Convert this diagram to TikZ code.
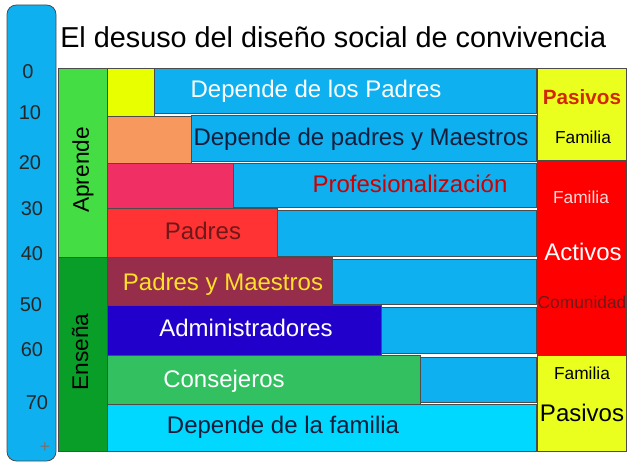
\documentclass[tikz,border=0pt]{standalone}
\usepackage{fontspec}
\setmainfont{Liberation Sans}
\definecolor{barblue}{RGB}{14,176,240}
\definecolor{aprgreen}{RGB}{68,221,68}
\definecolor{ensgreen}{RGB}{8,158,40}
\definecolor{yelbox}{RGB}{232,255,0}
\definecolor{orangebox}{RGB}{247,152,95}
\definecolor{pinkbox}{RGB}{240,48,100}
\definecolor{redbox}{RGB}{255,51,51}
\definecolor{maroonbox}{RGB}{150,45,75}
\definecolor{indigobox}{RGB}{34,0,204}
\definecolor{consgreen}{RGB}{51,192,96}
\definecolor{cyanbox}{RGB}{0,216,255}
\definecolor{sideyel}{RGB}{235,255,30}
\definecolor{sidered}{RGB}{255,0,0}
\definecolor{navytxt}{RGB}{20,30,60}
\definecolor{proftxt}{RGB}{204,0,0}
\definecolor{padtxt}{RGB}{110,25,25}
\definecolor{pytxt}{RGB}{255,224,40}
\definecolor{pasred}{RGB}{210,40,0}
\begin{document}
\begin{tikzpicture}[x=0.75pt,y=-0.75pt,
  box/.style={draw=black!70,line width=0.6pt},
  rowtxt/.style={font=\fontsize{18}{20}\selectfont},
  num/.style={font=\fontsize{15}{17}\selectfont,text=black!85},
  side/.style={font=\fontsize{13}{15}\selectfont},
  sidebig/.style={font=\fontsize{18}{20}\selectfont}]
\useasboundingbox (0,0) rectangle (627,463);
% scale bar
\draw[box,fill=barblue,rounded corners=7pt] (7,5) rectangle (56,461);
\node[num] (n0) at (28,72){0};
\node[num] (n10) at (30,113){10};
\node[num] (n20) at (30,163){20};
\node[num] (n30) at (32,209){30};
\node[num] (n40) at (32,254){40};
\node[num] (n50) at (31,305){50};
\node[num] (n60) at (32,350){60};
\node[num] (n70) at (37,403){70};
\node[font=\fontsize{13}{15}\selectfont,text=black!55] (nplus) at (45,447){+};
% title
\node[anchor=west,inner sep=0,font=\fontsize{21.6}{24}\selectfont] (title) at (60,37){El desuso del diseño social de convivencia};
% left columns
\draw[box,fill=aprgreen] (58,68) rectangle (107,257);
\draw[box,fill=ensgreen] (58,257) rectangle (107,451);
\node[rotate=90,font=\fontsize{17}{19}\selectfont] (aprende) at (83,170){Aprende};
\node[rotate=90,font=\fontsize{17}{19}\selectfont] (ensena) at (80,352){Enseña};
% blue rows
\draw[box,fill=barblue] (154,68) rectangle (536,113);
\draw[box,fill=barblue] (191,115) rectangle (536,161);
\draw[box,fill=barblue] (233,163) rectangle (536,207);
\draw[box,fill=barblue] (277,210) rectangle (536,256);
\draw[box,fill=barblue] (332,259) rectangle (536,304);
\draw[box,fill=barblue] (381,307) rectangle (536,353);
\draw[box,fill=barblue] (420,357) rectangle (536,402);
% coloured boxes
\draw[box,fill=yelbox] (107,68) rectangle (154,116);
\draw[box,fill=orangebox] (107,116) rectangle (191,163);
\draw[box,fill=pinkbox] (107,163) rectangle (233,208);
\draw[box,fill=redbox] (107,208) rectangle (277,257);
\draw[box,fill=maroonbox] (107,257) rectangle (332,305);
\draw[box,fill=indigobox] (107,305) rectangle (381,355);
\draw[box,fill=consgreen] (107,355) rectangle (420,404);
\draw[box,fill=cyanbox] (107,404) rectangle (536,451);
% row texts
\node[rowtxt,text=white] (r1) at (316,91){Depende de los Padres};
\node[rowtxt,text=navytxt] (r2) at (361,139){Depende de padres y Maestros};
\node[rowtxt,text=proftxt] (r3) at (410,184){Profesionalización};
\node[rowtxt,text=padtxt] (r4) at (203,231){Padres};
\node[rowtxt,text=pytxt] (r5) at (223,284){Padres y Maestros};
\node[rowtxt,text=white] (r6) at (246,328){Administradores};
\node[rowtxt,text=white] (r7) at (224,381){Consejeros};
\node[rowtxt,text=navytxt] (r8) at (283,427){Depende de la familia};
% right column
\draw[box,fill=sideyel] (537,68) rectangle (626.5,160);
\draw[box,fill=sidered] (537,160) rectangle (626.5,355);
\draw[box,fill=sideyel] (537,355) rectangle (626.5,451);
\node[font=\fontsize{15.5}{17}\selectfont\bfseries,text=pasred] (pas1) at (582,97){Pasivos};
\node[side] (fam1) at (583,137){Familia};
\node[side,text=red!15] (fam2) at (581,197){Familia};
\node[sidebig,text=white] (act) at (583,252){Activos};
\node[side,text=padtxt] (com) at (582,302){Comunidad};
\node[side] (fam3) at (582,373){Familia};
\node[sidebig] (pas2) at (582,413){Pasivos};
\end{tikzpicture}
\end{document}
